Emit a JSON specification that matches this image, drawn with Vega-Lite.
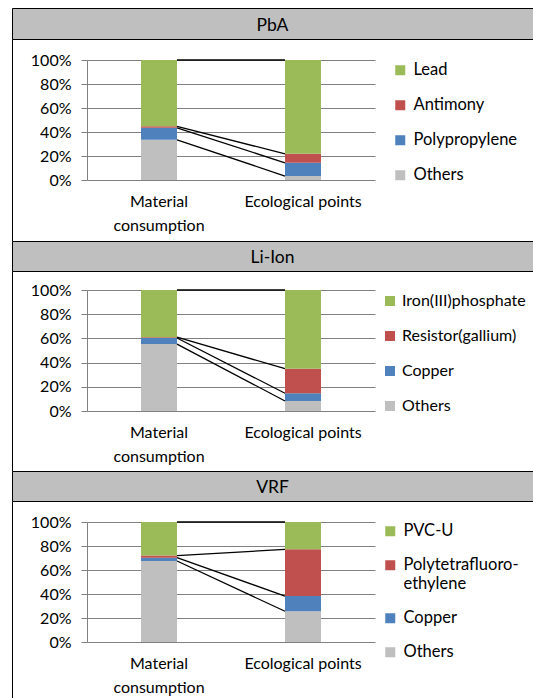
{
  "$schema": "https://vega.github.io/schema/vega-lite/v6.json",
  "padding": {"left": 11, "top": 7, "right": 0, "bottom": 0},
  "autosize": {"type": "pad"},
  "spacing": 0,
  "bounds": "flush",
  "config": {
    "font": "Lato",
    "view": {"stroke": "#000", "strokeWidth": 1},
    "axis": {"labelFont": "Lato", "labelFontSize": 16, "labelColor": "#000", "title": null},
    "legend": {"labelFont": "Lato", "labelFontSize": 16.5, "labelColor": "#000"}
  },
  "datasets": {
    "shares": [
      {"panel": "PbA", "cat": "Material consumption", "material": "Others", "rank": 1, "value": 33.5},
      {"panel": "PbA", "cat": "Material consumption", "material": "Polypropylene", "rank": 2, "value": 10.0},
      {"panel": "PbA", "cat": "Material consumption", "material": "Antimony", "rank": 3, "value": 1.2},
      {"panel": "PbA", "cat": "Material consumption", "material": "Lead", "rank": 4, "value": 55.3},
      {"panel": "PbA", "cat": "Ecological points", "material": "Others", "rank": 1, "value": 3.3},
      {"panel": "PbA", "cat": "Ecological points", "material": "Polypropylene", "rank": 2, "value": 11.0},
      {"panel": "PbA", "cat": "Ecological points", "material": "Antimony", "rank": 3, "value": 7.5},
      {"panel": "PbA", "cat": "Ecological points", "material": "Lead", "rank": 4, "value": 78.2},
      {"panel": "Li-Ion", "cat": "Material consumption", "material": "Others", "rank": 1, "value": 55.3},
      {"panel": "Li-Ion", "cat": "Material consumption", "material": "Copper", "rank": 2, "value": 5.0},
      {"panel": "Li-Ion", "cat": "Material consumption", "material": "Resistor(gallium)", "rank": 3, "value": 0.7},
      {"panel": "Li-Ion", "cat": "Material consumption", "material": "Iron(III)phosphate", "rank": 4, "value": 39.0},
      {"panel": "Li-Ion", "cat": "Ecological points", "material": "Others", "rank": 1, "value": 8.3},
      {"panel": "Li-Ion", "cat": "Ecological points", "material": "Copper", "rank": 2, "value": 6.4},
      {"panel": "Li-Ion", "cat": "Ecological points", "material": "Resistor(gallium)", "rank": 3, "value": 20.3},
      {"panel": "Li-Ion", "cat": "Ecological points", "material": "Iron(III)phosphate", "rank": 4, "value": 65.0},
      {"panel": "VRF", "cat": "Material consumption", "material": "Others", "rank": 1, "value": 67.5},
      {"panel": "VRF", "cat": "Material consumption", "material": "Copper", "rank": 2, "value": 2.8},
      {"panel": "VRF", "cat": "Material consumption", "material": "Polytetrafluoroethylene", "rank": 3, "value": 1.7},
      {"panel": "VRF", "cat": "Material consumption", "material": "PVC-U", "rank": 4, "value": 28.0},
      {"panel": "VRF", "cat": "Ecological points", "material": "Others", "rank": 1, "value": 25.6},
      {"panel": "VRF", "cat": "Ecological points", "material": "Copper", "rank": 2, "value": 12.7},
      {"panel": "VRF", "cat": "Ecological points", "material": "Polytetrafluoroethylene", "rank": 3, "value": 38.9},
      {"panel": "VRF", "cat": "Ecological points", "material": "PVC-U", "rank": 4, "value": 22.8}
    ]
  },
  "resolve": {"scale": {"color": "independent"}, "legend": {"color": "independent"}},
  "vconcat": [
    {
      "width": 521, "height": 31,
      "view": {"fill": "#BFBFBF", "stroke": "#000"},
      "data": {"values": [{"name": "PbA"}]},
      "mark": {"type": "text", "fontSize": 17.5, "font": "Lato", "color": "#000", "dy": 2},
      "encoding": {"text": {"field": "name"}}
    },
    {
      "width": 521, "height": 202,
      "view": {"fill": "white", "stroke": "#000"},
      "data": {"name": "shares"},
      "transform": [{"filter": "datum.panel == 'PbA'"}],
      "layer": [
        {
          "mark": {"type": "bar"},
          "encoding": {
            "x": {"field": "cat", "type": "nominal", "sort": ["Material consumption", "Ecological points"],
                  "scale": {"range": [75, 363], "paddingInner": 0.75, "paddingOuter": 0.375},
                  "axis": {"orient": "bottom", "offset": -61, "domain": false, "ticks": false, "labelPadding": 13, "labelAngle": 0, "labelLineHeight": 24, "labelBaseline": "top",
                           "labelExpr": "datum.label == 'Material consumption' ? ['Material', 'consumption'] : datum.label"}},
            "y": {"field": "value", "type": "quantitative", "stack": "normalize",
                  "scale": {"domain": [0, 1], "range": [141, 21]},
                  "axis": {"values": [0, 0.2, 0.4, 0.6, 0.8, 1], "format": ".0%", "offset": -75, "tickSize": 6, "tickColor": "#808080", "domainColor": "#808080", "gridColor": "#808080", "grid": true, "labelPadding": 10}},
            "color": {"field": "material", "type": "nominal",
                      "scale": {"domain": ["Lead", "Antimony", "Polypropylene", "Others"], "range": ["#9BBB59", "#C0504D", "#4F81BD", "#BFBFBF"]},
                      "legend": {"orient": "none", "legendX": 380, "legendY": 23, "title": null, "symbolType": "square", "symbolSize": 100, "symbolStrokeWidth": 0, "rowPadding": 18, "labelOffset": 5, "padding": 0, "labelLimit": 200}},
            "order": {"field": "rank"}
          }
        },
        {
          "transform": [{"stack": "value", "groupby": ["cat"], "sort": [{"field": "rank", "order": "ascending"}], "offset": "normalize", "as": ["lo", "hi"]}],
          "mark": {"type": "line", "color": "#000", "strokeWidth": 1.3},
          "encoding": {
            "x": {"field": "cat", "type": "nominal", "sort": ["Material consumption", "Ecological points"], "scale": {"type": "point", "range": [165, 273], "padding": 0}, "axis": null},
            "y": {"field": "hi", "type": "quantitative", "scale": {"domain": [0, 1], "range": [141, 21]}, "axis": null},
            "detail": {"field": "material"}
          }
        }
      ],
      "resolve": {"scale": {"x": "independent"}, "axis": {"x": "independent", "y": "independent"}}
    },
    {
      "width": 521, "height": 30,
      "view": {"fill": "#BFBFBF", "stroke": "#000"},
      "data": {"values": [{"name": "Li-Ion"}]},
      "mark": {"type": "text", "fontSize": 17.5, "font": "Lato", "color": "#000", "dy": 2},
      "encoding": {"text": {"field": "name"}}
    },
    {
      "width": 521, "height": 200,
      "view": {"fill": "white", "stroke": "#000"},
      "data": {"name": "shares"},
      "transform": [{"filter": "datum.panel == 'Li-Ion'"}],
      "layer": [
        {
          "mark": {"type": "bar"},
          "encoding": {
            "x": {"field": "cat", "type": "nominal", "sort": ["Material consumption", "Ecological points"],
                  "scale": {"range": [75, 363], "paddingInner": 0.75, "paddingOuter": 0.375},
                  "axis": {"orient": "bottom", "offset": -60, "domain": false, "ticks": false, "labelPadding": 13, "labelAngle": 0, "labelLineHeight": 24, "labelBaseline": "top",
                           "labelExpr": "datum.label == 'Material consumption' ? ['Material', 'consumption'] : datum.label"}},
            "y": {"field": "value", "type": "quantitative", "stack": "normalize",
                  "scale": {"domain": [0, 1], "range": [140, 19]},
                  "axis": {"values": [0, 0.2, 0.4, 0.6, 0.8, 1], "format": ".0%", "offset": -75, "tickSize": 6, "tickColor": "#808080", "domainColor": "#808080", "gridColor": "#808080", "grid": true, "labelPadding": 10}},
            "color": {"field": "material", "type": "nominal",
                      "scale": {"domain": ["Iron(III)phosphate", "Resistor(gallium)", "Copper", "Others"], "range": ["#9BBB59", "#C0504D", "#4F81BD", "#BFBFBF"]},
                      "legend": {"orient": "none", "legendX": 370, "legendY": 22, "title": null, "symbolType": "square", "symbolSize": 100, "symbolStrokeWidth": 0, "rowPadding": 19, "labelOffset": 4, "padding": 0, "labelLimit": 132, "labelFontSize": 16}},
            "order": {"field": "rank"}
          }
        },
        {
          "transform": [{"stack": "value", "groupby": ["cat"], "sort": [{"field": "rank", "order": "ascending"}], "offset": "normalize", "as": ["lo", "hi"]}],
          "mark": {"type": "line", "color": "#000", "strokeWidth": 1.3},
          "encoding": {
            "x": {"field": "cat", "type": "nominal", "sort": ["Material consumption", "Ecological points"], "scale": {"type": "point", "range": [165, 273], "padding": 0}, "axis": null},
            "y": {"field": "hi", "type": "quantitative", "scale": {"domain": [0, 1], "range": [140, 19]}, "axis": null},
            "detail": {"field": "material"}
          }
        }
      ],
      "resolve": {"scale": {"x": "independent"}, "axis": {"x": "independent", "y": "independent"}}
    },
    {
      "width": 521, "height": 30,
      "view": {"fill": "#BFBFBF", "stroke": "#000"},
      "data": {"values": [{"name": "VRF"}]},
      "mark": {"type": "text", "fontSize": 17.5, "font": "Lato", "color": "#000", "dy": 2},
      "encoding": {"text": {"field": "name"}}
    },
    {
      "width": 521, "height": 197,
      "view": {"fill": "white", "stroke": "#000"},
      "data": {"name": "shares"},
      "transform": [{"filter": "datum.panel == 'VRF'"}],
      "layer": [
        {
          "mark": {"type": "bar"},
          "encoding": {
            "x": {"field": "cat", "type": "nominal", "sort": ["Material consumption", "Ecological points"],
                  "scale": {"range": [75, 363], "paddingInner": 0.75, "paddingOuter": 0.375},
                  "axis": {"orient": "bottom", "offset": -56, "domain": false, "ticks": false, "labelPadding": 13, "labelAngle": 0, "labelLineHeight": 24, "labelBaseline": "top",
                           "labelExpr": "datum.label == 'Material consumption' ? ['Material', 'consumption'] : datum.label"}},
            "y": {"field": "value", "type": "quantitative", "stack": "normalize",
                  "scale": {"domain": [0, 1], "range": [141, 21]},
                  "axis": {"values": [0, 0.2, 0.4, 0.6, 0.8, 1], "format": ".0%", "offset": -75, "tickSize": 6, "tickColor": "#808080", "domainColor": "#808080", "gridColor": "#808080", "grid": true, "labelPadding": 10}},
            "color": {"field": "material", "type": "nominal",
                      "scale": {"domain": ["PVC-U", "Polytetrafluoroethylene", "Copper", "Others"], "range": ["#9BBB59", "#C0504D", "#4F81BD", "#BFBFBF"]},
                      "legend": {"orient": "none", "legendX": 370, "legendY": 22, "title": null, "symbolType": "square", "symbolSize": 100, "symbolStrokeWidth": 0, "rowPadding": 17, "labelOffset": 5, "padding": 0, "labelLimit": 200,
                                 "labelExpr": "datum.label == 'Polytetrafluoroethylene' ? ['Polytetrafluoro-', 'ethylene'] : datum.label"}},
            "order": {"field": "rank"}
          }
        },
        {
          "transform": [{"stack": "value", "groupby": ["cat"], "sort": [{"field": "rank", "order": "ascending"}], "offset": "normalize", "as": ["lo", "hi"]}],
          "mark": {"type": "line", "color": "#000", "strokeWidth": 1.3},
          "encoding": {
            "x": {"field": "cat", "type": "nominal", "sort": ["Material consumption", "Ecological points"], "scale": {"type": "point", "range": [165, 273], "padding": 0}, "axis": null},
            "y": {"field": "hi", "type": "quantitative", "scale": {"domain": [0, 1], "range": [141, 21]}, "axis": null},
            "detail": {"field": "material"}
          }
        }
      ],
      "resolve": {"scale": {"x": "independent"}, "axis": {"x": "independent", "y": "independent"}}
    }
  ]
}
